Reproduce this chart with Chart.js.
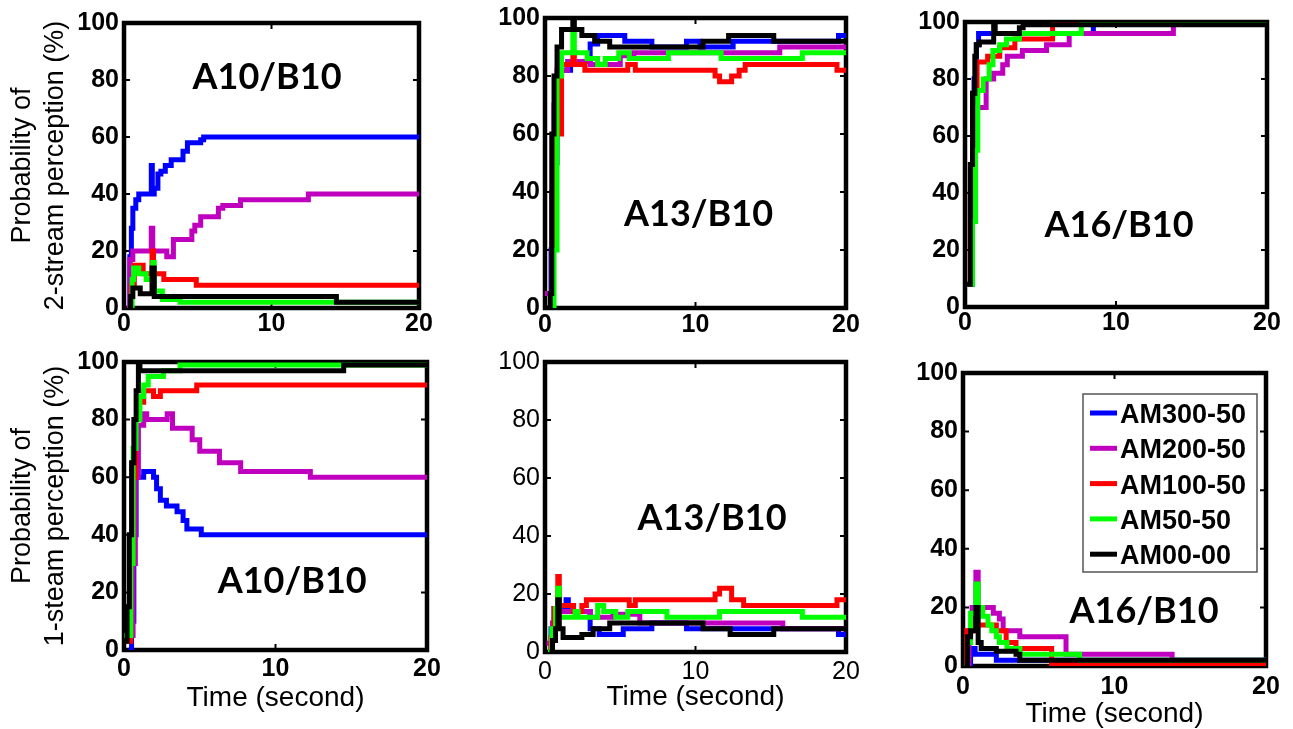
<!DOCTYPE html>
<html>
<head>
<meta charset="utf-8">
<script src="https://cdn.jsdelivr.net/npm/chart.js@4.4.0/dist/chart.umd.min.js"></script>
<style>
  html, body { margin: 0; padding: 0; background: #fff; overflow: hidden; }
  body { width: 1293px; height: 729px; position: relative; }
  canvas { position: absolute; }
</style>
</head>
<body>
<canvas id="p1"></canvas>
<canvas id="p2"></canvas>
<canvas id="p3"></canvas>
<canvas id="p4"></canvas>
<canvas id="p5"></canvas>
<canvas id="p6"></canvas>
<script>
var seriesNames = ['AM300-50', 'AM200-50', 'AM100-50', 'AM50-50', 'AM00-00'];
var seriesColors = ['#0000ff', '#bf00bf', '#ff0000', '#00ff00', '#000000'];
var xTicks = [0, 10, 20];
var yTicks = [0, 20, 40, 60, 80, 100];

// [time (s), probability (%)] - 2-stream perception, A10/B10
var twoA10_AM300 = [[0.3,0],[0.4,18],[0.5,28],[0.6,35],[0.8,38],[1.0,40],[1.85,50],[1.92,40],[2.05,42],[2.3,47],[2.5,48],[2.8,50],[3.2,52],[4.0,55],[4.3,58],[5.2,59],[5.4,60],[20,60]];
var twoA10_AM200 = [[0.2,0],[0.4,17],[0.6,20],[1.85,28],[1.95,20],[2.9,18],[3.35,24],[4.6,27],[4.8,29],[5.2,32],[6.4,35],[6.7,36],[7.9,38],[12.5,40],[20,40]];
var twoA10_AM100 = [[0.3,0],[0.5,8],[0.7,15],[1.3,12],[1.9,20],[2.0,12],[2.7,10],[4.9,8],[20,8]];
var twoA10_AM50 = [[0.4,0],[0.55,10],[0.65,14],[1.0,12],[1.5,10],[1.95,16],[2.05,6],[2.6,3],[3.8,2],[20,2]];
var twoA10_AM00 = [[0.3,0],[0.45,4],[0.6,7],[1.1,5],[1.9,14],[2.05,4],[14.4,2],[20,2]];

// 2-stream perception, A13/B10
var twoA13_AM300 = [[0.2,0],[0.4,20],[0.55,50],[0.8,75],[1.0,82],[1.7,85],[3.0,91],[3.5,94],[5.3,92],[7.1,90],[9.4,92],[10.3,90],[12.5,92],[19.5,94],[20,94]];
var twoA13_AM200 = [[0,5],[0.45,40],[0.6,70],[0.8,82],[1.5,85],[3.0,84],[5.0,87],[5.9,88],[15.6,90],[20,90]];
var twoA13_AM100 = [[0.4,0],[0.55,30],[0.7,60],[1.1,84],[1.85,87],[1.95,84],[2.65,82],[5.5,84],[6.0,82],[11.3,80],[11.6,78],[12.4,80],[12.9,82],[13.3,84],[19.4,82],[20,82]];
var twoA13_AM50 = [[0.4,0],[0.6,20],[0.8,80],[1.1,88],[1.85,95],[1.95,88],[2.8,86],[3.5,84],[4.0,86],[4.9,88],[5.6,86],[8.2,88],[11.7,86],[17.1,88],[20,88]];
var twoA13_AM00 = [[0.1,0],[0.35,5],[0.45,60],[0.6,80],[0.8,90],[1.1,96],[1.85,100],[1.95,96],[2.45,94],[3.3,92],[4.3,90],[10.5,92],[12.2,94],[15.2,92],[20,92]];

// 2-stream perception, A16/B10
var twoA16_AM300 = [[0.3,8],[0.5,40],[0.6,80],[0.75,92],[0.9,96],[8.5,100],[20,100]];
var twoA16_AM200 = [[0.2,8],[0.4,40],[0.6,70],[1.4,80],[1.9,82],[2.5,85],[2.8,88],[3.8,90],[5.4,92],[6.9,96],[13.8,100],[20,100]];
var twoA16_AM100 = [[0.2,8],[0.35,40],[0.5,75],[0.8,86],[1.5,88],[2.3,91],[3.3,94],[5.8,100],[20,100]];
var twoA16_AM50 = [[0.3,8],[0.5,30],[0.7,55],[0.85,76],[1.2,80],[1.6,85],[1.85,90],[2.3,92],[2.75,94],[3.6,96],[7.7,100],[20,100]];
var twoA16_AM00 = [[0,8],[0.35,50],[0.5,75],[0.65,88],[0.75,92],[0.95,93],[1.9,100],[2.0,96],[3.6,98],[3.85,99],[20,99]];

// 1-stream perception, A10/B10
var oneA10_AM300 = [[0.3,0],[0.5,10],[0.65,40],[0.8,68],[0.9,60],[1.3,62],[1.95,60],[2.15,56],[2.4,52],[2.8,50],[3.5,48],[3.9,45],[4.15,42],[5.1,40],[20,40]];
var oneA10_AM200 = [[0.4,5],[0.6,30],[0.75,60],[0.95,78],[1.3,82],[1.5,80],[2.85,82],[3.2,77],[4.5,73],[5.0,69],[6.3,65],[7.7,62],[12.3,60],[20,60]];
var oneA10_AM100 = [[0,3],[0.45,30],[0.6,60],[0.75,80],[0.9,86],[1.3,90],[1.95,88],[2.4,90],[4.8,92],[20,92]];
var oneA10_AM50 = [[0,5],[0.45,30],[0.6,70],[0.8,80],[1.05,88],[1.3,92],[1.6,95],[2.6,97],[3.7,99],[20,99]];
var oneA10_AM00 = [[0,3],[0.2,15],[0.35,40],[0.5,65],[0.65,80],[0.8,90],[0.95,100],[1.05,97],[14.5,99],[20,99]];

// 1-stream perception, A13/B10
var oneA13_AM300 = [[0.2,0],[0.4,8],[0.6,15],[1.4,18],[1.55,14],[3.0,8],[3.6,6],[5.2,8],[7.1,10],[9.4,8],[19.5,6],[20,6]];
var oneA13_AM200 = [[0.1,3],[0.5,10],[0.7,15],[1.0,14],[3.0,12],[4.5,13],[6.3,10],[15.8,8],[20,8]];
var oneA13_AM100 = [[0.2,0],[0.4,5],[0.6,15],[0.85,26],[0.95,16],[1.9,14],[2.45,16],[2.75,18],[5.6,16],[6.0,18],[11.3,20],[11.6,22],[12.4,18],[13.2,16],[19.4,18],[20,18]];
var oneA13_AM50 = [[0.2,0],[0.45,8],[0.7,15],[0.85,22],[0.95,12],[2.0,14],[2.2,12],[3.5,16],[3.9,14],[4.7,12],[5.5,14],[8.1,12],[11.6,14],[17.1,12],[20,12]];
var oneA13_AM00 = [[0.3,0],[0.5,4],[0.7,8],[0.85,18],[0.95,8],[1.2,5],[2.45,6],[3.2,8],[4.3,10],[10.5,8],[12.3,6],[15.2,8],[20,8]];

// 1-stream perception, A16/B10
var oneA16_AM300 = [[0.2,0],[0.5,6],[0.8,4],[2.2,2],[20,2]];
var oneA16_AM200 = [[0.2,0],[0.4,12],[0.6,20],[0.85,32],[1.0,20],[2.0,18],[2.4,16],[2.65,12],[3.75,10],[6.8,4],[13.8,2],[20,2]];
var oneA16_AM100 = [[0.15,0],[0.25,12],[0.65,14],[2.2,12],[2.85,8],[3.5,6],[5.85,0.5],[20,0.5]];
var oneA16_AM50 = [[0.1,0],[0.3,8],[0.5,18],[0.85,28],[1.0,20],[1.3,17],[1.65,14],[1.9,12],[2.2,10],[2.4,8],[2.9,6],[3.75,4],[7.7,2],[20,2]];
var oneA16_AM00 = [[0.1,0],[0.3,10],[0.5,12],[0.85,20],[1.0,8],[1.2,6],[2.2,5],[3.5,4],[3.75,2],[20,2]];

var FONT = "'Liberation Sans', Arial, sans-serif";

// frame, inner ticks, panel label and legend
var panelDeco = {
    id: 'panelDeco',
    beforeDatasetsDraw: function(chart) {
        var a = chart.chartArea, ctx = chart.ctx, xs = chart.scales.x, ys = chart.scales.y;
        ctx.save();
        ctx.strokeStyle = '#000';
        ctx.lineWidth = 2;
        ctx.beginPath();
        xTicks.forEach(function(v) {
            var px = xs.getPixelForValue(v);
            ctx.moveTo(px, a.top); ctx.lineTo(px, a.top + 6);
            ctx.moveTo(px, a.bottom); ctx.lineTo(px, a.bottom - 6);
        });
        yTicks.forEach(function(v) {
            var py = ys.getPixelForValue(v);
            ctx.moveTo(a.left, py); ctx.lineTo(a.left + 6, py);
            ctx.moveTo(a.right, py); ctx.lineTo(a.right - 6, py);
        });
        ctx.stroke();
        ctx.lineWidth = 4.5;
        ctx.strokeRect(a.left, a.top, a.right - a.left, a.bottom - a.top);
        ctx.restore();
    },
    afterDatasetsDraw: function(chart, args, o) {
        var a = chart.chartArea, ctx = chart.ctx, xs = chart.scales.x, ys = chart.scales.y;
        ctx.save();
        ctx.fillStyle = '#000';
        ctx.font = "bold 36px Lato, 'Open Sans', sans-serif";
        ctx.textAlign = 'center';
        ctx.textBaseline = 'alphabetic';
        ctx.fillText(o.text, xs.getPixelForValue(o.at[0]), ys.getPixelForValue(o.at[1]) + 13);

        if (o.legend) {
            var lx = a.left + 120, ly = a.top + 21;
            ctx.fillStyle = '#fff';
            ctx.fillRect(lx, ly, 174, 178);
            ctx.strokeStyle = '#555';
            ctx.lineWidth = 1.5;
            ctx.strokeRect(lx, ly, 174, 178);
            ctx.font = 'bold 27px ' + FONT;
            ctx.textAlign = 'left';
            chart.data.datasets.forEach(function(ds, i) {
                var cy = ly + 19 + i * 35.3;
                ctx.strokeStyle = ds.borderColor;
                ctx.lineWidth = 5;
                ctx.beginPath();
                ctx.moveTo(lx + 7, cy);
                ctx.lineTo(lx + 34, cy);
                ctx.stroke();
                ctx.fillStyle = '#000';
                ctx.fillText(ds.label, lx + 37, cy + 10);
            });
        }
        ctx.restore();
    }
};

var panels = [
    { id: 'p1', left: 0, box: [124, 23, 419, 308], text: 'A10/B10', at: [9.7, 81.4],
      series: [twoA10_AM300, twoA10_AM200, twoA10_AM100, twoA10_AM50, twoA10_AM00],
      yTitle: ['Probability of', '2-stream perception (%)'], xTitle: false, bold: true, xPad: 1 },
    { id: 'p2', left: 465, box: [545, 18, 846, 308], text: 'A13/B10', at: [10.2, 32.8],
      series: [twoA13_AM300, twoA13_AM200, twoA13_AM100, twoA13_AM50, twoA13_AM00],
      yTitle: null, xTitle: false, bold: true, xPad: 2 },
    { id: 'p3', left: 885, box: [965, 22, 1267, 307], text: 'A16/B10', at: [10.2, 29.1],
      series: [twoA16_AM300, twoA16_AM200, twoA16_AM100, twoA16_AM50, twoA16_AM00],
      yTitle: null, xTitle: false, bold: true, xPad: 1 },
    { id: 'p4', left: 0, box: [124, 362, 427, 650], text: 'A10/B10', at: [11.1, 24.3],
      series: [oneA10_AM300, oneA10_AM200, oneA10_AM100, oneA10_AM50, oneA10_AM00],
      yTitle: ['Probability of', '1-steam perception (%)'], xTitle: true, gap: 48, bold: true, xPad: 4 },
    { id: 'p5', left: 465, box: [545, 362, 846, 652], text: 'A13/B10', at: [11.1, 46.6],
      series: [oneA13_AM300, oneA13_AM200, oneA13_AM100, oneA13_AM50, oneA13_AM00],
      yTitle: null, xTitle: true, gap: 45, bold: false, xPad: 5 },
    { id: 'p6', left: 885, box: [963, 373, 1266, 666], text: 'A16/B10', at: [11.95, 19.1],
      series: [oneA16_AM300, oneA16_AM200, oneA16_AM100, oneA16_AM50, oneA16_AM00],
      yTitle: null, xTitle: true, gap: 48, bold: true, xPad: 6, legend: true }
];

function makePanel(p) {
    var padTop = 20, padRight = 26;
    var xH = p.xTitle ? 66 : 36;
    var yW = p.box[0] - p.left;
    var cv = document.getElementById(p.id);
    cv.width = p.box[2] + padRight - p.left;
    cv.height = p.box[3] - p.box[1] + padTop + xH;
    cv.style.left = p.left + 'px';
    cv.style.top = (p.box[1] - padTop) + 'px';

    var tickFont = { family: FONT, size: 25, weight: p.bold ? 'bold' : 'normal', lineHeight: 1.2 };

    new Chart(cv, {
        type: 'line',
        data: {
            datasets: p.series.map(function(s, i) {
                return {
                    label: seriesNames[i],
                    data: s.map(function(pt) { return { x: pt[0], y: pt[1] }; }),
                    borderColor: seriesColors[i],
                    backgroundColor: seriesColors[i],
                    borderWidth: 5,
                    pointRadius: 0,
                    stepped: true,
                    fill: false,
                    order: 5 - i
                };
            })
        },
        options: {
            responsive: false,
            animation: false,
            events: [],
            layout: { padding: { top: padTop, right: padRight, left: 0, bottom: 0 } },
            plugins: {
                legend: { display: false },
                tooltip: { enabled: false },
                panelDeco: { text: p.text, at: p.at, legend: !!p.legend }
            },
            scales: {
                x: {
                    type: 'linear', min: 0, max: 20,
                    grid: { display: false, drawTicks: false },
                    border: { display: false },
                    afterBuildTicks: function(s) { s.ticks = xTicks.map(function(v) { return { value: v }; }); },
                    afterFit: function(s) { s.height = xH; },
                    ticks: { color: '#000', font: tickFont, padding: p.xPad, maxRotation: 0, autoSkip: false },
                    title: p.xTitle ? {
                        display: true, text: 'Time (second)', color: '#000',
                        font: { family: FONT, size: 28, lineHeight: 1 },
                        padding: { top: 0, bottom: xH - 14 - p.gap }
                    } : { display: false }
                },
                y: {
                    min: 0, max: 100,
                    grid: { display: false, drawTicks: false },
                    border: { display: false },
                    afterBuildTicks: function(s) { s.ticks = yTicks.map(function(v) { return { value: v }; }); },
                    afterFit: function(s) { s.width = yW; },
                    ticks: { color: '#000', font: tickFont, padding: 5, autoSkip: false },
                    title: p.yTitle ? {
                        display: true, text: p.yTitle, color: '#000',
                        font: { family: FONT, size: 27, lineHeight: 33 / 27 },
                        padding: { top: 6, bottom: 0 }
                    } : { display: false }
                }
            }
        },
        plugins: [panelDeco]
    });
}

panels.forEach(makePanel);
</script>
</body>
</html>
